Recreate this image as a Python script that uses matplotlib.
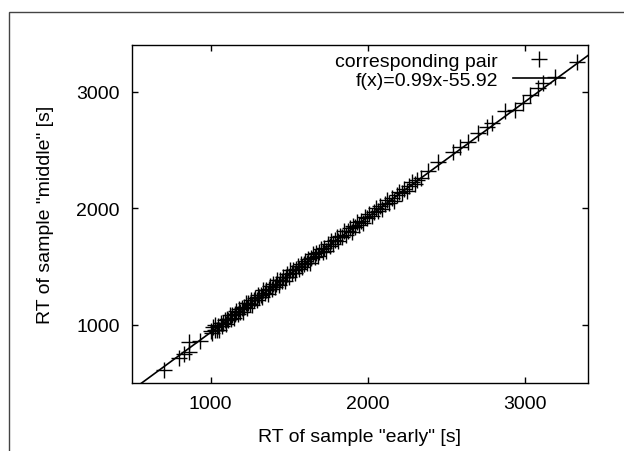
import matplotlib
matplotlib.use("Agg")
import matplotlib.pyplot as plt
import numpy as np
from matplotlib.patches import Rectangle

plt.rcParams['font.family'] = ['Liberation Sans', 'DejaVu Sans']

rt_early = [701, 797, 829, 860, 860, 934,
    1002, 1010, 1018, 1025, 1031, 1040, 1047, 1055, 1063, 1070, 1078, 1089, 1096, 1104,
    1112, 1121, 1130, 1138, 1146, 1155, 1163, 1172, 1180, 1188, 1197, 1205, 1214, 1222,
    1231, 1240, 1248, 1257, 1266, 1275, 1283, 1292, 1301, 1310, 1318, 1327, 1336, 1345,
    1353, 1362, 1371, 1380, 1389, 1398, 1407, 1415, 1424, 1433, 1442, 1451, 1460, 1470,
    1479, 1488, 1497, 1506, 1515, 1525, 1534, 1543, 1553, 1562, 1572, 1581, 1591, 1601,
    1611, 1620, 1630, 1640, 1650, 1661, 1671, 1681, 1692, 1702, 1713, 1724, 1735, 1746,
    1757, 1768, 1779, 1790, 1802, 1813, 1825, 1836, 1848, 1860, 1872, 1884, 1896, 1908,
    1920, 1933, 1946, 1958, 1971, 1984, 1997, 2010, 2024, 2037, 2051, 2065, 2079, 2093,
    2108, 2122, 2137, 2152, 2167, 2183, 2198, 2214, 2230, 2247, 2263, 2280, 2297, 2315,
    2340, 2385,
    2448, 2543, 2586, 2639, 2702, 2756, 2788, 2872, 2936, 2989, 3031, 3084, 3116, 3190, 3328]

rt_middle = [614, 715, 749, 769, 849, 863,
    948, 926, 977, 951, 995, 952, 986, 958, 1014, 991, 1019, 1044, 1004, 1051,
    1040, 1082, 1048, 1081, 1059, 1090, 1115, 1090, 1138, 1111, 1144, 1113, 1153, 1186,
    1146, 1183, 1174, 1209, 1169, 1210, 1231, 1210, 1256, 1234, 1258, 1237, 1296, 1273,
    1297, 1267, 1308, 1329, 1308, 1351, 1321, 1347, 1381, 1344, 1382, 1373, 1406, 1373,
    1413, 1439, 1412, 1466, 1440, 1466, 1440, 1480, 1500, 1480, 1525, 1491, 1522, 1549,
    1527, 1562, 1533, 1575, 1606, 1581, 1613, 1588, 1623, 1651, 1625, 1661, 1634, 1690,
    1679, 1721, 1694, 1724, 1749, 1720, 1764, 1755, 1804, 1769, 1803, 1828, 1797, 1844,
    1842, 1882, 1858, 1891, 1873, 1924, 1915, 1954, 1931, 1966, 2002, 1978, 2016, 1995,
    2039, 2068, 2046, 2085, 2063, 2109, 2138, 2127, 2167, 2151, 2194, 2223, 2207, 2243,
    2255, 2317,
    2399, 2485, 2528, 2571, 2643, 2700, 2728, 2831, 2845, 2902, 2971, 3028, 3071, 3129, 3258]

fit_slope = 0.99
fit_intercept = -55.92
x_range = [500, 3400]
y_range = [500, 3400]
x_ticks = [1000, 2000, 3000]
y_ticks = [1000, 2000, 3000]

fig = plt.figure(figsize=(6.24, 4.52), dpi=100)
ax = fig.add_axes([132/624, 68/452, 456/624, 338/452])

fig.patches.append(Rectangle((9/624, -0.5), 2.0, 0.5 + (452-13)/452, fill=False,
                             edgecolor='#444444', lw=1.0, transform=fig.transFigure,
                             figure=fig, clip_on=False))

ax.plot(rt_early, rt_middle, linestyle='none', marker='+', markersize=12,
        markeredgewidth=1.0, color='black', label='corresponding pair')
fx = np.array(x_range)
ax.plot(fx, fit_slope * fx + fit_intercept, color='black', lw=1.2,
        label='f(x)=0.99x-55.92')

ax.set_xlim(*x_range)
ax.set_ylim(*y_range)
ax.set_xticks(x_ticks)
ax.set_yticks(y_ticks)
ax.tick_params(direction='in', length=4, width=1, top=True, right=True,
               labelsize=14, pad=9)
for s in ax.spines.values():
    s.set_linewidth(1.0)

ax.set_xlabel('RT of sample "early" [s]', fontsize=14, labelpad=11)
ax.set_ylabel('RT of sample "middle" [s]', fontsize=14, labelpad=16)

leg = ax.legend(loc='upper right', bbox_to_anchor=((565-132)/456, (384-53)/338),
                markerfirst=False, frameon=False, fontsize=14, borderpad=0,
                borderaxespad=0, handlelength=2.7, handletextpad=0.75,
                labelspacing=0.1, numpoints=1)

fig.savefig('out.png', dpi=100)
